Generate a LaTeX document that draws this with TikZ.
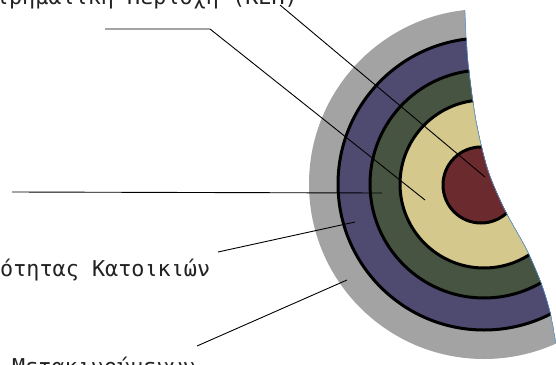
\documentclass[tikz,border=0pt]{standalone}
\usepackage{fontspec}
\newfontfamily\zonefont{DejaVu Sans Mono}
\usetikzlibrary{positioning}
\definecolor{zngray}{HTML}{A3A3A3}
\definecolor{znpurple}{HTML}{4F4A70}
\definecolor{zngreen}{HTML}{465441}
\definecolor{znsand}{HTML}{D4C88C}
\definecolor{znred}{HTML}{6B2A2D}
\definecolor{znedge}{HTML}{4A90D9}
\definecolor{zntext}{HTML}{222222}
\tikzset{
  ring/.style={draw=black, line width=3pt},
  lead/.style={draw=black, line width=0.9pt},
  edgeline/.style={draw=znedge, line width=1pt},
  zlabel/.style={font=\zonefont\fontsize{21.8}{26}\selectfont, text=zntext, inner sep=0pt},
}

\begin{document}
\begin{tikzpicture}[x=1pt, y=-1pt]
  \useasboundingbox (0,0) rectangle (556,364);
  \clip (0,0) rectangle (556,364);
  \coordinate (ctr) at (484,184);
  % the cut sector of the rings
  \begin{scope}
    \clip (0,0) -- (465,0) -- plot[smooth] coordinates {(465,7) (468,60) (476,120) (488,170) (505,210) (527,250) (542,285) (551,315) (556,343)} -- (556,364) -- (0,364) -- cycle;
    \fill[zngray] (ctr) circle[radius=175];
    \foreach \r/\c in {146/znpurple, 114/zngreen, 84/znsand}
      \filldraw[ring, fill=\c] (ctr) circle[radius=\r];
    \filldraw[ring, fill=znred] (481,185) circle[radius=38];
    \clip (ctr) circle[radius=175];
    \draw[edgeline] plot[smooth] coordinates {(465,7) (468,60) (476,120) (488,170) (505,210) (527,250) (542,285) (551,315) (556,343)};
  \end{scope}
  % labels
  \node[zlabel, anchor=base east] (cbd) at (298,5) {ιρηματική Περιοχή (ΚΕΠ)};
  \node[zlabel, anchor=base west] (resid) at (0,276) {ότητας Κατοικιών};
  \node[zlabel, anchor=base west] (commute) at (12,374) {Μετακινούμενων};
  % leader lines
  \coordinate (cbdfoot) at (280,5);
  \coordinate (cbdtip) at (485,177);
  \coordinate (sandend) at (105,29);
  \coordinate (sandbend) at (210,29);
  \coordinate (sandtip) at (425,200);
  \coordinate (greenend) at (12,192);
  \coordinate (greentip) at (382,193);
  \coordinate (residfoot) at (218,252);
  \coordinate (residtip) at (355,222);
  \coordinate (commutefoot) at (197,346);
  \coordinate (commutetip) at (347,280);
  \draw[lead] (cbdfoot) -- (cbdtip);
  \draw[lead] (sandend) -- (sandbend) -- (sandtip);
  \draw[lead] (greenend) -- (greentip);
  \draw[lead] (residfoot) -- (residtip);
  \draw[lead] (commutefoot) -- (commutetip);
\end{tikzpicture}
\end{document}
